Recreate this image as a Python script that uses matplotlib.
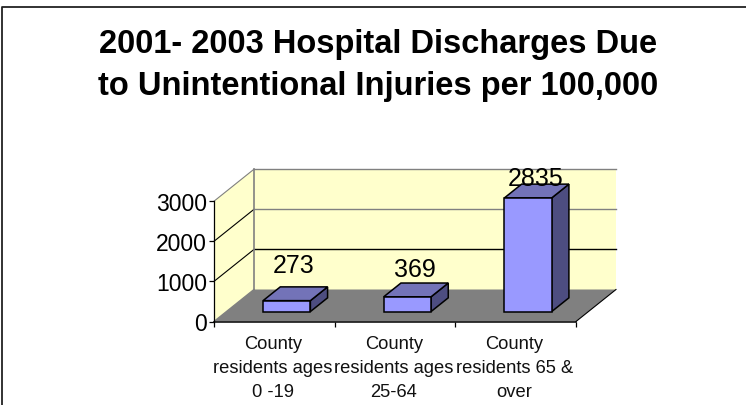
import matplotlib
matplotlib.use('Agg')
import matplotlib.pyplot as plt
from matplotlib.patches import Polygon

plt.rcParams['font.family'] = ['Liberation Sans', 'DejaVu Sans']

title = '2001- 2003 Hospital Discharges Due\nto Unintentional Injuries per 100,000'
categories = ['County\nresidents ages\n0 -19', 'County\nresidents ages\n25-64', 'County\nresidents 65 &\nover']
values = [273, 369, 2835]
yticks = [0, 1000, 2000, 3000]
# labels were moved by hand in the original, offsets in points
label_offsets = [(-7.5, 15.5), (-7, 10), (-7, 4.5)]

W, H = 746, 406
# depth of the 3d box, in data units
depth_x = 0.3315
depth_y = 798
bar_width = 0.392
bar_d0 = 0.31
bar_d1 = 0.74

fig = plt.figure(figsize=(W / 100, H / 100), dpi=100)

# slide frame, only top and left are in the crop
fig.add_artist(plt.Line2D([1.5 / W, 1.5 / W, 1], [0, 1 - 7.5 / H, 1 - 7.5 / H], color='#222222', lw=1.3))

# axes is the front plane of the 3d box
ax = fig.add_axes([214 / W, 1 - 322.5 / H, 362 / W, 120.3 / H])
ax.set_xlim(0, len(categories))
ax.set_ylim(0, 3000)
ax.patch.set_visible(False)
for s in ax.spines.values():
    s.set_visible(False)


def proj(x, v, d=0):
    return (x + d * depth_x, v + d * depth_y)


def face(pts, fc, ec, lw, z):
    ax.add_patch(Polygon(pts, closed=True, fc=fc, ec=ec, lw=lw, zorder=z, clip_on=False, joinstyle='miter'))


def edge(a, b, color, lw, z):
    ax.plot([a[0], b[0]], [a[1], b[1]], color=color, lw=lw, zorder=z, clip_on=False)


n = len(categories)
top = yticks[-1]
wall = '#ffffcc'
# side wall, back wall, floor
face([proj(0, 0), proj(0, 0, 1), proj(0, top, 1), proj(0, top)], wall, 'none', 0, 1)
face([proj(0, 0, 1), proj(n, 0, 1), proj(n, top, 1), proj(0, top, 1)], wall, 'none', 0, 1)
face([proj(0, 0), proj(n, 0), proj(n, 0, 1), proj(0, 0, 1)], '#808080', 'none', 0, 2)

# gridlines, the side wall ones are thin black
for t in yticks[1:]:
    edge(proj(0, t), proj(0, t, 1), '#808080' if t == top else 'black', 0.8, 1.5)
    edge(proj(0, t, 1), proj(n, t, 1), 'black' if t == 1000 else '#808080', 1.0, 1.5)

# box edges
edge(proj(0, 0, 1), proj(0, top, 1), '#808080', 1.2, 1.7)
edge(proj(0, 0), proj(0, 0, 1), '#808080', 1.0, 3)
edge(proj(n, 0), proj(n, 0, 1), 'black', 0.8, 3)
edge(proj(0, 0), proj(n, 0), 'black', 1.1, 3)
edge(proj(0, 0), proj(0, top), 'black', 0.9, 3)

# bars
for i, v in enumerate(values):
    x0 = i + 0.5 - bar_width / 2
    x1 = i + 0.5 + bar_width / 2
    face([proj(x1, 0, bar_d0), proj(x1, 0, bar_d1), proj(x1, v, bar_d1), proj(x1, v, bar_d0)], '#4d4d80', 'black', 1.1, 4 + i)
    face([proj(x0, v, bar_d0), proj(x1, v, bar_d0), proj(x1, v, bar_d1), proj(x0, v, bar_d1)], '#7373b8', 'black', 1.1, 4 + i)
    face([proj(x0, 0, bar_d0), proj(x1, 0, bar_d0), proj(x1, v, bar_d0), proj(x0, v, bar_d0)], '#9999ff', 'black', 1.1, 4 + i)
    ax.annotate(str(v), proj(i + 0.5, v, bar_d1), xytext=label_offsets[i], textcoords='offset points',
                ha='center', va='center', fontsize=18, color='black', zorder=10, annotation_clip=False)

ax.set_xticks(range(n + 1))
ax.set_xticklabels([])
ax.set_yticks(yticks)
ax.set_yticklabels([str(t) for t in yticks], fontsize=16.5)
ax.tick_params(axis='both', length=3.5, width=0.9, color='black')
ax.tick_params(axis='y', pad=1.5)
for i, c in enumerate(categories):
    ax.annotate(c, (i + 0.49, 0), xytext=(0, -10), textcoords='offset points', ha='center', va='top',
                fontsize=13.2, linespacing=1.53, color='#111111', annotation_clip=False)

fig.text(378 / W, 1 - 65.5 / H, title, ha='center', va='center', fontsize=23.5, fontweight='bold', linespacing=1.45)

fig.savefig('out.png', dpi=100)
